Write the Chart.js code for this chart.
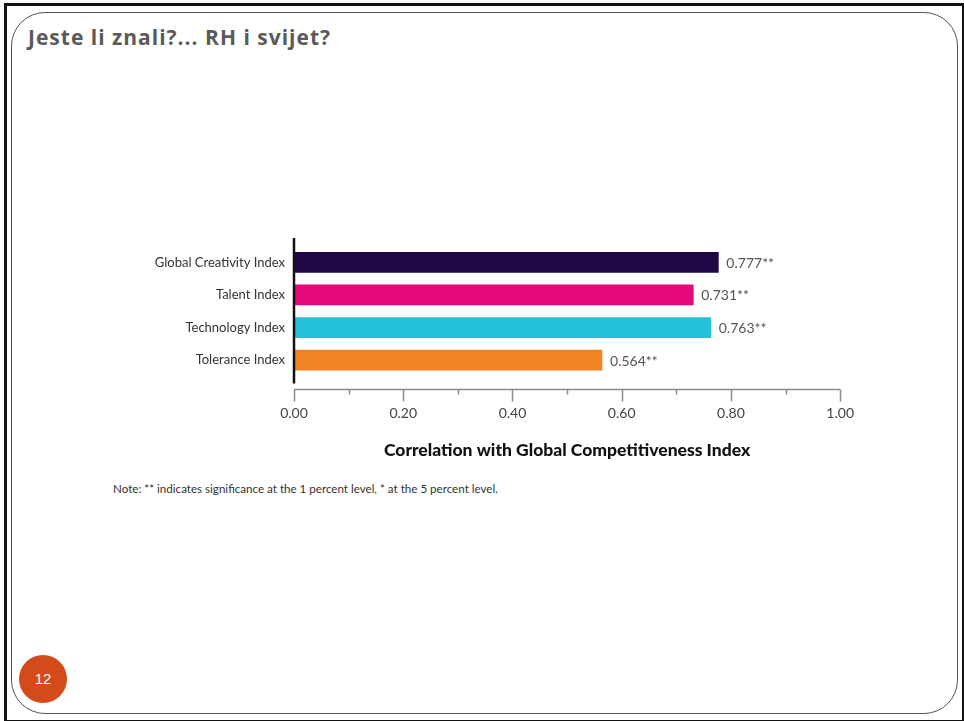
<!DOCTYPE html>
<html>
<head>
<meta charset="utf-8">
<script src="https://cdn.jsdelivr.net/npm/chart.js@4"></script>
<style>
  html, body { margin: 0; padding: 0; background: #fff; }
  body { width: 964px; height: 721px; position: relative; overflow: hidden; font-family: Lato, sans-serif; }
  .frame { position: absolute; left: 4px; top: 3px; width: 955px; height: 714px; border: 2px solid #111; border-top-width: 3px; border-left-width: 3px; }
  .slide { position: absolute; left: 11px; top: 12px; width: 945px; height: 700px; border: 1px solid #555; border-radius: 34px; }
  .heading { position: absolute; left: 28px; top: 23px; font: bold 21px "Open Sans", sans-serif; letter-spacing: 1px; color: #5a5a5a; }
  .note { position: absolute; left: 113px; top: 482px; font: 11.6px Lato, sans-serif; color: #333; }
  .pagenum { position: absolute; left: 19px; top: 655px; width: 48px; height: 48px; border-radius: 50%; background: #d34a1b; color: #fff; font: 15px "Liberation Sans", sans-serif; text-align: center; line-height: 48px; }
  #chartBox { position: absolute; left: 100px; top: 220px; width: 783px; height: 250px; }
</style>
</head>
<body>
<div class="frame"></div>
<div class="slide"></div>
<div class="heading">Jeste li znali?... RH i svijet?</div>
<div id="chartBox"><canvas id="corr-chart"></canvas></div>
<div class="note">Note: ** indicates significance at the 1 percent level, * at the 5 percent level.</div>
<div class="pagenum">12</div>
<script>
// index names and their correlation with the competitiveness index
const categories = ["Global Creativity Index", "Talent Index", "Technology Index", "Tolerance Index"];
const correlations = [0.777, 0.731, 0.763, 0.564];
const significance = ["**", "**", "**", "**"];
const barColors = ["#1f0747", "#e6087b", "#25c0da", "#f08423"];

// axis lines, tick marks and value labels
const axisDecor = {
  id: "axisDecor",
  afterDatasetsDraw(chart) {
    const ctx = chart.ctx;
    const area = chart.chartArea;
    const xs = chart.scales.x;
    const x0 = xs.getPixelForValue(0);
    const baseY = area.bottom + 13;
    ctx.save();

    // category axis
    ctx.strokeStyle = "#111";
    ctx.lineWidth = 2.5;
    ctx.beginPath();
    ctx.moveTo(x0, area.top - 8);
    ctx.lineTo(x0, area.bottom + 7);
    ctx.stroke();

    // value axis with major/minor ticks
    ctx.strokeStyle = "#8c8c8c";
    ctx.lineWidth = 1.5;
    ctx.beginPath();
    ctx.moveTo(x0, baseY);
    ctx.lineTo(xs.getPixelForValue(1), baseY);
    for (let i = 0; i <= 10; i++) {
      const px = Math.round(xs.getPixelForValue(i / 10)) + 0.5;
      ctx.moveTo(px, baseY);
      ctx.lineTo(px, baseY + (i % 2 === 0 ? 12 : 5));
    }
    ctx.stroke();

    // value labels
    ctx.fillStyle = "#555";
    ctx.font = "14px Lato, sans-serif";
    ctx.textBaseline = "middle";
    ctx.textAlign = "left";
    chart.getDatasetMeta(0).data.forEach((bar, i) => {
      ctx.fillText(correlations[i].toFixed(3) + significance[i], bar.x + 8, bar.y + 1);
    });
    ctx.restore();
  }
};

new Chart("corr-chart", {
  type: "bar",
  data: {
    labels: categories,
    datasets: [{
      data: correlations,
      backgroundColor: barColors,
      barThickness: 20
    }]
  },
  options: {
    indexAxis: "y",
    responsive: true,
    maintainAspectRatio: false,
    animation: false,
    layout: { padding: { left: 0, right: 34, top: 26, bottom: 9 } },
    plugins: {
      legend: { display: false },
      tooltip: { enabled: false }
    },
    scales: {
      y: {
        grid: { display: false, drawTicks: false },
        border: { display: false },
        ticks: { color: "#333", font: { family: "Lato", size: 13 }, padding: 9 },
        afterFit(s) { s.width = 194; }
      },
      x: {
        min: 0,
        max: 1,
        grid: { display: false, drawTicks: false },
        border: { display: false },
        ticks: {
          stepSize: 0.2,
          color: "#444",
          font: { family: "Lato", size: 14 },
          padding: 29,
          callback: (v) => Number(v).toFixed(2)
        },
        title: {
          display: true,
          text: "Correlation with Global Competitiveness Index",
          color: "#111",
          font: { family: "Lato", size: 17.5, weight: 900 },
          padding: { top: 0, bottom: 0 }
        },
        afterFit(s) { s.height = 84.5; }
      }
    }
  },
  plugins: [axisDecor]
});
</script>
</body>
</html>
